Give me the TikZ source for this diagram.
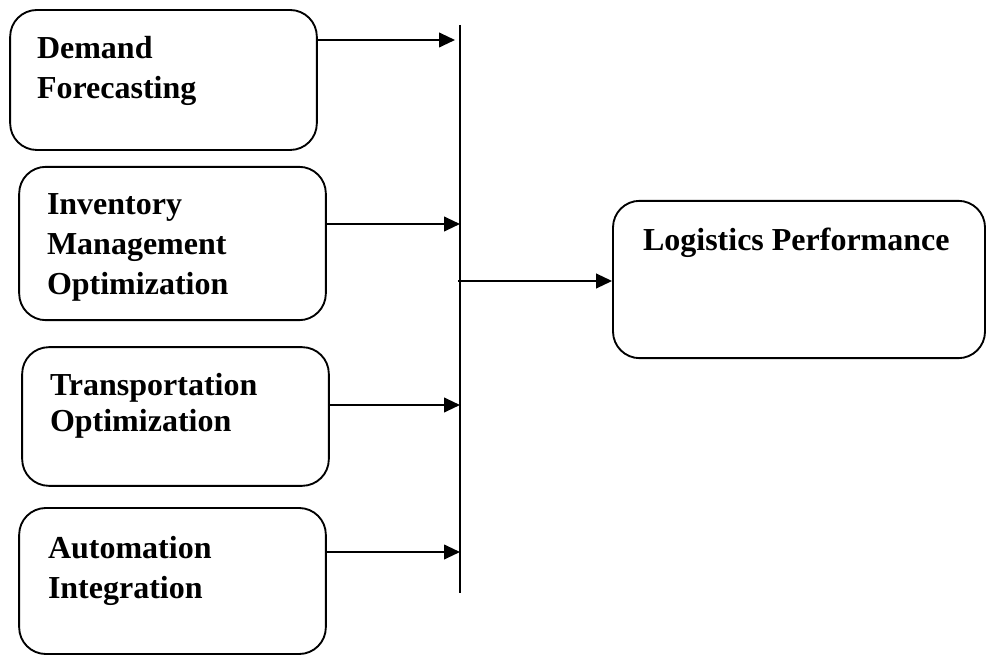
\documentclass[tikz,border=0pt]{standalone}
\usepackage{fontspec}
\setmainfont{Liberation Serif}
\usepackage{tikz}
\usetikzlibrary{arrows.meta}

\begin{document}
\begin{tikzpicture}[x=0.75pt,y=-0.75pt,->,>={Triangle[length=12pt,width=11pt]},line width=1.5pt]
    \tikzstyle{every node}=[inner sep=0pt]
    \tikzstyle{blk}=[draw,rounded corners=20pt,line width=1.4pt]
    \tikzstyle{lbl}=[anchor=north west,align=left,font=\bfseries\fontsize{24}{30}\selectfont]

    \useasboundingbox (0,0) rectangle (987,655);

    % boxes
    \node[blk,minimum width=230pt,minimum height=105pt]   (dem)  at (163.5,80)  {};
    \node[blk,minimum width=230pt,minimum height=115pt]   (inv)  at (172.5,243.5) {};
    \node[blk,minimum width=230pt,minimum height=104pt]   (tra)  at (175.5,416.5) {};
    \node[blk,minimum width=230pt,minimum height=109.5pt] (aut)  at (172.5,581) {};
    \node[blk,minimum width=279pt,minimum height=118pt]   (perf) at (799,279.5) {};

    % texts
    \node[lbl] (demtxt)  at (36,35)  {Demand\\Forecasting};
    \node[lbl] (invtxt)  at (46,193) {Inventory\\Management\\Optimization};
    \node[lbl,font=\bfseries\fontsize{24}{27}\selectfont] (tratxt) at (49,372) {Transportation\\Optimization};
    \node[lbl] (auttxt)  at (47,535) {Automation\\Integration};
    \node[lbl] (perftxt) at (642,227) {Logistics Performance};

    % bus line
    \coordinate (bustop) at (460,25);
    \coordinate (busbot) at (460,593);
    \draw[-] (bustop) -- (busbot);

    \coordinate (j1) at (455,40);
    \coordinate (j2) at (460,224);
    \coordinate (j3) at (460,405);
    \coordinate (j4) at (460,552);
    \coordinate (jout) at (458,281);

    \path (dem.east |- j1) edge (j1)
          (inv.east |- j2) edge (j2)
          (tra.east |- j3) edge (j3)
          (aut.east |- j4) edge (j4)
          (jout) edge (perf.west |- jout);
\end{tikzpicture}
\end{document}
